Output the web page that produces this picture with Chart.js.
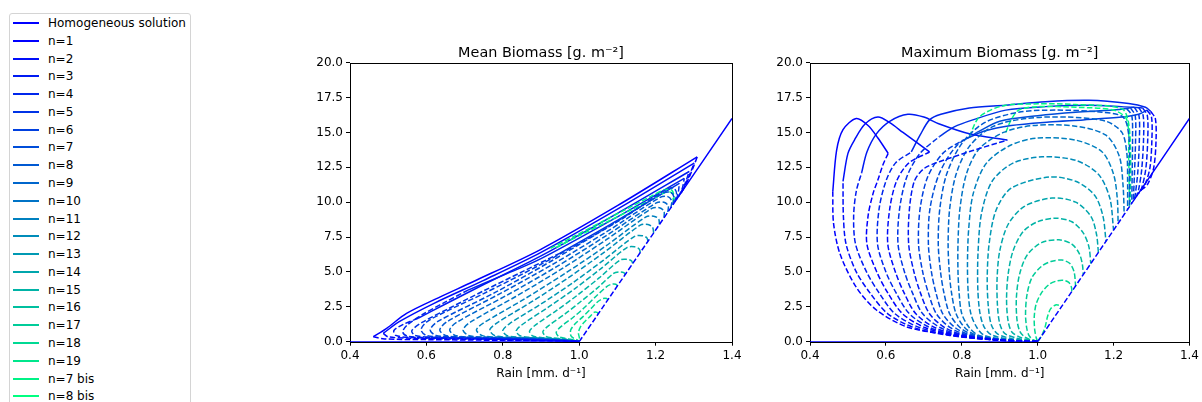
<!DOCTYPE html>
<html>
<head>
<meta charset="utf-8">
<script src="https://cdn.jsdelivr.net/npm/chart.js@4.4.1/dist/chart.umd.min.js"></script>
<style>
  body { margin: 0; width: 1202px; height: 402px; overflow: hidden; background: #fff; position: relative;
         font-family: "DejaVu Sans", sans-serif; }
  #legend { position: absolute; left: 9px; top: 13px; width: 182px; height: 430px; box-sizing: border-box;
            border: 1px solid #d4d4d4; border-radius: 3px; background: #fff; }
  .row { position: absolute; left: 0; height: 18px; width: 180px; }
  .row .swatch { position: absolute; left: 3px; top: 8px; width: 26px; height: 2px; }
  .row .label { position: absolute; left: 38px; top: 0; line-height: 18px; font-size: 12px; color: #000; white-space: nowrap; }
  canvas { position: absolute; }
</style>
</head>
<body>
<div id="legend"></div>
<canvas id="meanChart" width="450" height="372" style="left:300px;top:30px;width:450px;height:372px"></canvas>
<canvas id="maxChart" width="442" height="372" style="left:760px;top:30px;width:442px;height:372px"></canvas>
<script>
// curves, in plotting order (colour runs along the "winter" map)
const curveLabels = ['n=1', 'n=2', 'n=3', 'n=4', 'n=5', 'n=6', 'n=7', 'n=8', 'n=9', 'n=10',
  'n=11', 'n=12', 'n=13', 'n=14', 'n=15', 'n=16', 'n=17', 'n=18', 'n=19', 'n=7 bis', 'n=8 bis'];

const rainTicks = [0.4, 0.6, 0.8, 1.0, 1.2, 1.4];
const biomassTicks = [0, 2.5, 5, 7.5, 10, 12.5, 15, 17.5, 20];

// homogeneous branch, same in both panels: flat [rain, biomass, rain, biomass, ...]
const homogStable = [[0.4, 0, 1.0, 0], [1.25, 10, 1.4, 16]];
const homogUnstable = [[1.0, 0, 1.25, 10]];

// Mean biomass panel: [curve index, flat rain/biomass pairs]
const meanStable = [
  [0, [1.309, 13.25, 1.1, 9.75, 0.896, 6.57, 0.722, 4.3, 0.635, 3.2, 0.548, 2.03, 0.496, 0.96, 0.461, 0.36]],
  [1, [1.301, 12.8, 1.1, 9.5, 0.9, 6.4, 0.75, 4.4, 0.62, 2.75, 0.53, 1.45, 0.487, 0.6]],
  [2, [1.288, 12.2, 1.1, 9.2, 0.9, 6.15, 0.75, 4.1, 0.65, 2.7, 0.578, 1.67]],
  [3, [1.275, 11.7, 1.1, 8.95, 0.9, 5.95, 0.8, 4.75, 0.709, 3.7]],
  [4, [1.262, 11.35, 1.1, 8.7, 0.95, 6.35]],
];
const meanUnstable = [
  [0, [1.27, 10.8, 1.285, 11.6, 1.3, 12.6, 1.309, 13.25]],
  [0, [0.461, 0.36, 0.49, 0.2, 0.6, 0.15, 0.8, 0.1, 0.95, 0.05, 1.0, 0.02]],
  [1, [1.268, 10.7, 1.285, 11.7, 1.301, 12.8]],
  [1, [0.487, 0.6, 0.5, 0.35, 0.56, 0.25, 0.7, 0.18, 0.85, 0.12, 1.0, 0.02]],
  [2, [1.265, 10.6, 1.278, 11.4, 1.288, 12.2]],
  [2, [0.578, 1.67, 0.54, 1.25, 0.515, 0.8, 0.52, 0.45, 0.56, 0.3, 0.7, 0.22, 0.85, 0.14, 1.0, 0.02]],
  [3, [1.26, 10.4, 1.27, 11.0, 1.275, 11.7]],
  [3, [0.709, 3.7, 0.65, 2.85, 0.59, 1.95, 0.55, 1.2, 0.538, 0.7, 0.55, 0.4, 0.6, 0.3, 0.75, 0.22, 0.9, 0.13, 1.0, 0.02]],
  [4, [1.255, 10.2, 1.26, 10.8, 1.262, 11.35]],
  [4, [0.95, 6.35, 0.85, 5.0, 0.75, 3.65, 0.66, 2.4, 0.59, 1.4, 0.562, 0.8, 0.57, 0.45, 0.62, 0.32, 0.8, 0.22, 0.93, 0.12, 1.0, 0.02]],
  [5, [1.25, 10.0, 1.255, 10.6, 1.248, 11.0, 1.23, 10.95, 1.1, 8.6, 0.9, 5.55, 0.75, 3.45, 0.65, 2.15, 0.6, 1.4, 0.586, 0.85, 0.6, 0.45, 0.65, 0.33, 0.8, 0.24, 0.92, 0.13, 1.0, 0.02]],
  [6, [1.245, 9.8, 1.248, 10.35, 1.24, 10.7, 1.22, 10.65, 1.07, 8.13, 0.925, 5.75, 0.78, 3.53, 0.63, 1.45, 0.61, 0.85, 0.625, 0.45, 0.68, 0.33, 0.82, 0.24, 0.93, 0.13, 1.0, 0.02]],
  [7, [1.24, 9.6, 1.242, 10.1, 1.232, 10.4, 1.212, 10.35, 1.073, 7.9, 0.934, 5.6, 0.794, 3.46, 0.655, 1.45, 0.635, 0.85, 0.65, 0.45, 0.7, 0.33, 0.83, 0.24, 0.94, 0.13, 1.0, 0.02]],
  [8, [1.232, 9.3, 1.233, 9.75, 1.222, 10.0, 1.202, 9.95, 1.07, 7.59, 0.941, 5.38, 0.81, 3.32, 0.68, 1.4, 0.661, 0.85, 0.675, 0.45, 0.72, 0.33, 0.84, 0.24, 0.945, 0.13, 1.0, 0.02]],
  [9, [1.222, 8.9, 1.222, 9.35, 1.21, 9.6, 1.19, 9.55, 1.071, 7.31, 0.953, 5.2, 0.834, 3.24, 0.715, 1.4, 0.696, 0.85, 0.71, 0.45, 0.75, 0.33, 0.86, 0.24, 0.95, 0.13, 1.0, 0.02]],
  [10, [1.21, 8.4, 1.208, 8.8, 1.195, 9.0, 1.175, 8.95, 1.069, 6.85, 0.963, 4.89, 0.856, 3.05, 0.75, 1.35, 0.731, 0.85, 0.745, 0.45, 0.78, 0.33, 0.88, 0.24, 0.955, 0.13, 1.0, 0.02]],
  [11, [1.195, 7.8, 1.192, 8.2, 1.18, 8.4, 1.16, 8.35, 1.066, 6.42, 0.973, 4.61, 0.879, 2.92, 0.785, 1.35, 0.766, 0.85, 0.778, 0.45, 0.81, 0.33, 0.9, 0.24, 0.96, 0.13, 1.0, 0.02]],
  [12, [1.18, 7.2, 1.177, 7.45, 1.165, 7.6, 1.145, 7.55, 1.063, 5.83, 0.982, 4.2, 0.9, 2.7, 0.818, 1.3, 0.8, 0.8, 0.81, 0.45, 0.84, 0.32, 0.91, 0.23, 0.965, 0.12, 1.0, 0.02]],
  [13, [1.16, 6.4, 1.157, 6.65, 1.145, 6.8, 1.125, 6.75, 1.057, 5.24, 0.989, 3.81, 0.92, 2.49, 0.852, 1.25, 0.835, 0.78, 0.845, 0.43, 0.87, 0.31, 0.93, 0.22, 0.97, 0.12, 1.0, 0.02]],
  [14, [1.14, 5.6, 1.137, 5.8, 1.125, 5.9, 1.107, 5.85, 1.052, 4.57, 0.997, 3.37, 0.941, 2.24, 0.886, 1.2, 0.87, 0.75, 0.878, 0.42, 0.9, 0.3, 0.95, 0.2, 0.98, 0.11, 1.0, 0.02]],
  [15, [1.12, 4.8, 1.117, 4.95, 1.105, 5.0, 1.09, 4.9, 1.048, 3.86, 1.005, 2.9, 0.963, 1.99, 0.92, 1.15, 0.905, 0.72, 0.912, 0.4, 0.93, 0.28, 0.96, 0.19, 0.985, 0.1, 1.0, 0.02]],
  [16, [1.1, 4.0, 1.096, 4.12, 1.085, 4.12, 1.072, 3.95, 1.042, 3.2, 1.013, 2.43, 0.983, 1.72, 0.953, 1.1, 0.94, 0.68, 0.946, 0.38, 0.96, 0.26, 0.98, 0.16, 0.992, 0.08, 1.0, 0.02]],
  [17, [1.075, 3.0, 1.072, 3.1, 1.063, 3.1, 1.05, 2.9, 1.03, 2.35, 1.01, 1.8, 0.99, 1.3, 0.978, 0.85, 0.978, 0.45, 0.985, 0.25, 0.995, 0.12, 1.0, 0.02]],
  [18, [1.05, 2.0, 1.047, 2.1, 1.04, 2.12, 1.03, 1.85, 1.015, 1.45, 1.003, 1.05, 0.998, 0.65, 1.0, 0.35, 1.002, 0.1]],
  [19, [0.925, 6.7, 0.99, 7.6, 1.06, 8.6, 1.13, 9.6, 1.19, 10.45, 1.225, 10.9, 1.243, 10.85, 1.248, 10.4, 1.248, 9.92]],
  [20, [0.94, 6.75, 1.0, 7.6, 1.07, 8.55, 1.14, 9.5, 1.2, 10.35, 1.232, 10.75, 1.245, 10.6, 1.246, 10.2, 1.246, 9.84]],
];

// Maximum biomass panel: [curve index, flat rain/biomass pairs]
const maxStable = [
  [0, [0.46, 10.75, 0.47, 13.7, 0.487, 15.2, 0.522, 16.0, 0.553, 15.5, 0.579, 14.6, 0.606, 13.5]],
  [1, [0.487, 11.5, 0.5, 13.5, 0.518, 14.5, 0.545, 15.6, 0.579, 16.1, 0.61, 15.7, 0.645, 15.0, 0.715, 13.6]],
  [2, [0.536, 12.1, 0.55, 13.6, 0.575, 14.9, 0.61, 15.8, 0.658, 16.3, 0.7, 16.1, 0.741, 15.6, 0.82, 14.9, 0.92, 14.45]],
  [3, [0.667, 13.6, 0.69, 14.8, 0.715, 15.9, 0.745, 16.3, 0.82, 16.75, 0.916, 16.95, 1.02, 17.2, 1.135, 17.3, 1.24, 17.07, 1.284, 16.8, 1.298, 16.5]],
  [4, [0.741, 14.7, 0.78, 15.4, 0.829, 15.9, 0.916, 16.6, 1.02, 16.85, 1.135, 16.95, 1.22, 16.85, 1.277, 16.75]],
  [5, [0.8, 14.4, 0.86, 15.1, 0.93, 15.5, 1.03, 15.75, 1.12, 15.9, 1.222, 16.1, 1.266, 16.3, 1.288, 16.6]],
  [6, [0.84, 15.0, 0.9, 15.8, 1.0, 16.2, 1.1, 16.45, 1.2, 16.6, 1.255, 16.8]],
];
const maxUnstable = [
  [0, [1.0, 0.02, 0.96, 0.03, 0.837, 0.24, 0.741, 0.6, 0.654, 1.07, 0.575, 2.27, 0.522, 3.9, 0.479, 6.3, 0.462, 8.5, 0.46, 10.75]],
  [0, [1.0, 0.02, 0.95, 0.03, 0.882, 0.15, 0.784, 0.45, 0.704, 1.0, 0.644, 2.0, 0.605, 3.5, 0.576, 5.0, 0.55, 7.0, 0.553, 9.0, 0.566, 10.6, 0.579, 11.6, 0.592, 12.66, 0.606, 13.5]],
  [0, [1.298, 16.5, 1.31, 16.0, 1.312, 14.5, 1.306, 12.5, 1.29, 11.3, 1.27, 10.8]],
  [1, [1.0, 0.02, 0.96, 0.03, 0.874, 0.15, 0.768, 0.45, 0.675, 1.0, 0.605, 2.0, 0.558, 3.5, 0.522, 5.0, 0.495, 7.0, 0.488, 9.0, 0.487, 11.5]],
  [1, [1.0, 0.02, 0.955, 0.03, 0.888, 0.15, 0.797, 0.45, 0.73, 1.0, 0.679, 2.0, 0.648, 3.5, 0.625, 5.0, 0.605, 7.0, 0.61, 9.5, 0.628, 11.5, 0.66, 12.8, 0.715, 13.6]],
  [1, [1.288, 16.6, 1.3, 16.1, 1.301, 14.5, 1.296, 12.5, 1.282, 11.2, 1.268, 10.72]],
  [2, [1.0, 0.02, 0.96, 0.03, 0.878, 0.15, 0.776, 0.45, 0.69, 1.0, 0.624, 2.0, 0.582, 3.5, 0.549, 5.0, 0.52, 7.0, 0.515, 9.0, 0.522, 10.8, 0.536, 12.1]],
  [2, [1.0, 0.02, 0.97, 0.03, 0.893, 0.15, 0.811, 0.45, 0.756, 1.0, 0.715, 2.0, 0.691, 3.5, 0.674, 5.0, 0.66, 7.0, 0.662, 9.5, 0.675, 11.5, 0.7, 12.4, 0.741, 12.9, 0.829, 13.7, 0.92, 14.45]],
  [2, [1.277, 16.75, 1.289, 16.2, 1.29, 14.5, 1.285, 12.4, 1.274, 11.0, 1.265, 10.6]],
  [3, [1.0, 0.02, 0.948, 0.03, 0.884, 0.15, 0.79, 0.45, 0.717, 1.0, 0.662, 2.0, 0.627, 3.5, 0.6, 5.0, 0.578, 7.0, 0.582, 9.5, 0.6, 11.5, 0.625, 12.8, 0.667, 13.6]],
  [3, [1.266, 16.8, 1.278, 16.2, 1.279, 14.5, 1.274, 12.3, 1.266, 10.9, 1.26, 10.4]],
  [4, [1.0, 0.02, 0.962, 0.03, 0.891, 0.15, 0.805, 0.45, 0.744, 1.0, 0.697, 2.0, 0.67, 3.5, 0.649, 5.0, 0.632, 7.0, 0.636, 9.5, 0.655, 11.8, 0.69, 13.5, 0.741, 14.7]],
  [4, [1.255, 16.8, 1.267, 16.2, 1.268, 14.5, 1.264, 12.2, 1.258, 10.7, 1.255, 10.2]],
  [5, [1.0, 0.02, 0.976, 0.03, 0.899, 0.15, 0.819, 0.45, 0.77, 1.0, 0.733, 2.0, 0.712, 3.5, 0.697, 5.0, 0.686, 7.0, 0.69, 9.5, 0.71, 11.8, 0.75, 13.5, 0.8, 14.4]],
  [5, [1.245, 16.75, 1.257, 16.2, 1.258, 14.5, 1.255, 12.0, 1.252, 10.08]],
  [6, [1.0, 0.02, 0.982, 0.03, 0.902, 0.15, 0.826, 0.45, 0.783, 1.0, 0.75, 2.0, 0.732, 3.5, 0.72, 5.0, 0.712, 7.0, 0.716, 9.5, 0.74, 12.0, 0.785, 14.0, 0.84, 15.0]],
  [6, [1.235, 16.7, 1.248, 16.2, 1.25, 14.5, 1.249, 12.0, 1.248, 9.92]],
  [7, [1.0, 0.02, 0.978, 0.03, 0.906, 0.15, 0.834, 0.45, 0.796, 1.0, 0.768, 2.0, 0.753, 3.5, 0.744, 5.0, 0.738, 7.0, 0.742, 9.5, 0.76, 12.0, 0.8, 14.2, 0.86, 15.7, 0.95, 16.45, 1.05, 16.6, 1.17, 16.45, 1.225, 16.1, 1.24, 14.8, 1.242, 12.0, 1.242, 9.68]],
  [8, [1.0, 0.02, 0.974, 0.03, 0.909, 0.15, 0.84, 0.45, 0.808, 1.0, 0.785, 2.0, 0.773, 3.5, 0.767, 5.0, 0.764, 7.0, 0.768, 9.5, 0.785, 12.0, 0.82, 14.0, 0.88, 15.4, 0.97, 16.0, 1.08, 16.1, 1.18, 15.8, 1.222, 15.0, 1.235, 13.5, 1.237, 11.5, 1.237, 9.48]],
  [9, [1.0, 0.02, 0.97, 0.03, 0.91, 0.15, 0.845, 0.45, 0.82, 1.0, 0.8, 2.0, 0.793, 3.5, 0.79, 5.0, 0.79, 7.0, 0.795, 9.5, 0.812, 12.0, 0.845, 13.8, 0.91, 15.0, 0.99, 15.5, 1.1, 15.45, 1.18, 14.8, 1.215, 13.3, 1.225, 11.2, 1.228, 9.12]],
  [10, [1.0, 0.02, 0.97, 0.04, 0.915, 0.15, 0.86, 0.45, 0.84, 1.0, 0.824, 2.0, 0.817, 3.5, 0.815, 5.5, 0.818, 8.0, 0.83, 10.6, 0.865, 12.8, 0.93, 14.1, 1.0, 14.6, 1.1, 14.45, 1.17, 13.6, 1.2, 12.0, 1.21, 10.2, 1.212, 8.48]],
  [11, [1.0, 0.02, 0.972, 0.05, 0.925, 0.17, 0.878, 0.5, 0.858, 1.1, 0.847, 2.2, 0.842, 4.0, 0.843, 6.5, 0.852, 9.2, 0.88, 11.5, 0.935, 12.8, 1.012, 13.25, 1.1, 13.0, 1.16, 12.0, 1.19, 10.3, 1.2, 8.0]],
  [12, [1.0, 0.02, 0.975, 0.06, 0.935, 0.2, 0.895, 0.55, 0.878, 1.2, 0.87, 2.5, 0.867, 4.5, 0.872, 7.0, 0.89, 9.4, 0.93, 11.0, 1.03, 11.8, 1.1, 11.5, 1.15, 10.5, 1.172, 9.0, 1.18, 7.2]],
  [13, [1.0, 0.02, 0.978, 0.08, 0.945, 0.25, 0.913, 0.6, 0.9, 1.3, 0.894, 2.6, 0.893, 4.5, 0.9, 6.5, 0.922, 8.4, 0.965, 9.7, 1.038, 10.3, 1.1, 10.0, 1.14, 9.0, 1.155, 7.7, 1.16, 6.4]],
  [14, [1.0, 0.02, 0.98, 0.1, 0.955, 0.3, 0.932, 0.7, 0.922, 1.5, 0.918, 3.0, 0.922, 4.8, 0.935, 6.5, 0.962, 7.9, 1.0, 8.6, 1.047, 8.85, 1.09, 8.6, 1.12, 7.8, 1.135, 6.8, 1.14, 5.6]],
  [15, [1.0, 0.02, 0.983, 0.12, 0.965, 0.35, 0.952, 0.8, 0.945, 1.7, 0.944, 3.2, 0.952, 4.8, 0.972, 6.2, 1.01, 7.1, 1.056, 7.3, 1.09, 7.0, 1.11, 6.3, 1.118, 5.5, 1.12, 4.8]],
  [16, [1.0, 0.02, 0.987, 0.15, 0.977, 0.45, 0.971, 1.0, 0.968, 2.0, 0.972, 3.4, 0.985, 4.6, 1.01, 5.4, 1.035, 5.75, 1.064, 5.85, 1.085, 5.6, 1.096, 5.0, 1.1, 4.0]],
  [17, [1.0, 0.02, 0.996, 0.3, 0.992, 0.9, 0.991, 1.8, 0.996, 2.7, 1.01, 3.5, 1.03, 4.1, 1.05, 4.35, 1.068, 4.4, 1.082, 4.25, 1.089, 3.9, 1.09, 3.6]],
  [18, [1.0, 0.02, 1.01, 0.4, 1.02, 1.1, 1.026, 1.8, 1.034, 2.35, 1.047, 2.63, 1.057, 2.6, 1.062, 2.48]],
  [19, [0.82, 14.7, 0.846, 16.1, 0.907, 16.9, 1.0, 17.05, 1.1, 17.0, 1.222, 16.7, 1.24, 15.6, 1.245, 13.0, 1.244, 10.0]],
  [20, [0.916, 15.0, 0.93, 15.9, 0.95, 16.6, 1.0, 16.85, 1.1, 16.8, 1.2, 16.6, 1.235, 15.9, 1.24, 13.0, 1.242, 9.7]],
];

const homogColor = 'rgb(0,0,255)';
// matplotlib "winter" colormap
const winter = t => `rgb(0,${Math.round(255 * t)},${Math.round(255 * (1 - 0.5 * t))})`;
const curveColors = curveLabels.map((_, i) => winter(i / (curveLabels.length - 1)));

// html legend (it runs off the bottom of the figure, as in the original)
const legendBox = document.getElementById('legend');
[['Homogeneous solution', homogColor]].concat(curveLabels.map((l, i) => [l, curveColors[i]]))
  .forEach(([label, color], i) => {
    const row = document.createElement('div');
    row.className = 'row';
    row.style.top = Math.round(i * 17.78) + 'px';
    row.innerHTML = `<div class="swatch" style="background:${color}"></div><div class="label">${label}</div>`;
    legendBox.appendChild(row);
  });

const toPoints = (flat) => {
  const pts = [];
  for (let i = 0; i < flat.length; i += 2) pts.push({ x: flat[i], y: flat[i + 1] });
  return pts;
};

const lineSet = (flat, color, dashed) => ({
  data: toPoints(flat),
  showLine: true,
  borderColor: color,
  borderWidth: 1.5,
  borderDash: dashed ? [5.5, 2.4] : [],
  pointRadius: 0,
  tension: 0.3,
  fill: false,
});

const buildDatasets = (stable, unstable) => {
  const ds = [];
  homogStable.forEach((p) => ds.push(lineSet(p, homogColor, false)));
  homogUnstable.forEach((p) => ds.push(lineSet(p, homogColor, true)));
  unstable.forEach(([i, p]) => ds.push(lineSet(p, curveColors[i], true)));
  stable.forEach(([i, p]) => ds.push(lineSet(p, curveColors[i], false)));
  return ds;
};

// black box round the plot area, drawn under the curves
const frame = {
  id: 'frame',
  beforeDatasetsDraw(chart) {
    const { ctx, chartArea: a } = chart;
    ctx.save();
    ctx.strokeStyle = '#000';
    ctx.lineWidth = 1;
    ctx.strokeRect(Math.round(a.left) + 0.5, Math.round(a.top) + 0.5,
      Math.round(a.right - a.left), Math.round(a.bottom - a.top));
    ctx.restore();
  },
};

Chart.defaults.font.family = '"DejaVu Sans", sans-serif';
Chart.defaults.color = '#000';

const makePanel = (id, title, stable, unstable, padRight) => new Chart(document.getElementById(id), {
  type: 'scatter',
  data: { datasets: buildDatasets(stable, unstable) },
  plugins: [frame],
  options: {
    responsive: false,
    animation: false,
    devicePixelRatio: 1,
    layout: { padding: { left: 0, right: padRight, top: 0, bottom: 0 } },
    scales: {
      x: {
        type: 'linear',
        min: 0.4,
        max: 1.4,
        afterBuildTicks(scale) { scale.ticks = rainTicks.map((v) => ({ value: v })); },
        afterFit(scale) { scale.height = 60.3; },
        ticks: { callback: (v) => Number(v).toFixed(1), font: { size: 12 }, padding: 3, maxRotation: 0, autoSkip: false },
        grid: { drawOnChartArea: false, tickLength: 4, color: '#000' },
        border: { display: false },
        title: { display: true, text: 'Rain [mm. d⁻¹]', font: { size: 12 }, padding: { top: 0, bottom: 21 } },
      },
      y: {
        type: 'linear',
        min: 0,
        max: 20,
        afterBuildTicks(scale) { scale.ticks = biomassTicks.map((v) => ({ value: v })); },
        afterFit(scale) { scale.width = 50; },
        ticks: { callback: (v) => Number(v).toFixed(1), font: { size: 12 }, padding: 3 },
        grid: { drawOnChartArea: false, tickLength: 4, color: '#000' },
        border: { display: false },
      },
    },
    plugins: {
      legend: { display: false },
      tooltip: { enabled: false },
      title: {
        display: true,
        text: title,
        fullSize: false,
        font: { size: 14.4, weight: 'normal' },
        padding: { top: 15, bottom: 0.4 },
      },
    },
  },
});

makePanel('meanChart', 'Mean Biomass [g. m⁻²]', meanStable, meanUnstable, 18);
makePanel('maxChart', 'Maximum Biomass [g. m⁻²]', maxStable, maxUnstable, 11);
</script>
</body>
</html>
